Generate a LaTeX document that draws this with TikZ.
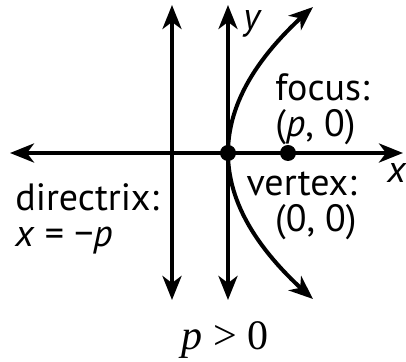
\documentclass[tikz,border=0pt]{standalone}
\usepackage{fontspec}
\setsansfont{PT Sans}
\newfontfamily\condfont{Liberation Serif}
\usetikzlibrary{arrows.meta,positioning}

\begin{document}
\begin{tikzpicture}[
    x=0.5pt, y=0.5pt,
    axis/.style={{Stealth[length=12pt,width=9.5pt,inset=3.5pt]}-{Stealth[length=12pt,width=9.5pt,inset=3.5pt]}, line width=2pt},
    dot/.style={circle, fill=black, inner sep=0pt, minimum size=8pt},
    lbl/.style={inner sep=0pt, font=\sffamily\fontsize{19}{18}\selectfont},
    axlbl/.style={inner sep=0pt, font=\sffamily\itshape\fontsize{19}{18}\selectfont}
]
    \useasboundingbox (-228,-209) rectangle (178,153);

    % Ends of the lines
    \coordinate (xl) at (-218,0);
    \coordinate (xr) at (175,0);
    \coordinate (yt) at (0,148);
    \coordinate (yb) at (0,-147);
    \coordinate (dt) at (-56,148);
    \coordinate (db) at (-56,-147);

    % Lines
    \draw [axis] (xl) -- (xr);
    \draw [axis] (yb) -- (yt);
    \draw [axis] (db) -- (dt);
    \draw [axis] plot[domain=-1:1, samples=60] ({85*\x*\x},{146*\x});

    % Nodes
    \node [dot] (vertex) at (0,0) {};
    \node [dot] (focus) at (60,0) {};
    \node [axlbl, anchor=north west] (ylbl) at (15,143) {y};
    \node [axlbl, anchor=base west] (xlbl) at (159,-30) {x};
    \node [lbl, anchor=north west, align=left] (focuslbl) at (47,80) {focus:\\(\textit{p}, 0)};
    \node [lbl, anchor=north east, align=right] (vertexlbl) at (129,-18) {vertex:\\(0, 0)};
    \node [lbl, anchor=north west, align=left] (directrixlbl) at (-213,-30) {directrix:\\\textit{x} = −\textit{p}};
    \node [inner sep=0pt, anchor=base, font=\condfont\fontsize{21}{21}\selectfont] (cond) at (-3,-197) {\textit{p} > 0};
\end{tikzpicture}
\end{document}
